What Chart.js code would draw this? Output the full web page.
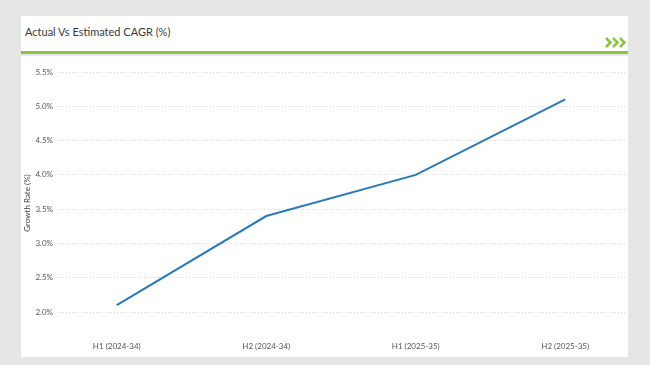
<!DOCTYPE html>
<html>
<head>
<meta charset="utf-8">
<script src="https://cdn.jsdelivr.net/npm/chart.js@4.4.1/dist/chart.umd.min.js"></script>
<style>
  html, body { margin: 0; padding: 0; }
  body { width: 650px; height: 365px; background: #e6e6e6; position: relative; overflow: hidden; font-family: Lato, "Open Sans", sans-serif; }
  #header { position: absolute; left: 21px; top: 16px; width: 607px; height: 35px; background: #fff; }
  #title { position: absolute; left: 4px; top: 9px; font-size: 11px; color: #3a3a3a; }
  #greenline { position: absolute; left: 21px; top: 51px; width: 607px; height: 3px; background: #8cc63f; }
  #chev { position: absolute; left: 605px; top: 37px; }
  #body { position: absolute; left: 21px; top: 56px; width: 607px; height: 301px; background: #fff; }
  #c { position: absolute; left: 0; top: 0; }
</style>
</head>
<body>
<div id="header"><div id="title">Actual Vs Estimated CAGR (%)</div></div>
<svg id="chev" width="22" height="11" viewBox="0 0 22 11">
  <polyline points="1,1 5.5,5.5 1,10" fill="none" stroke="#8cc63f" stroke-width="2.6"/>
  <polyline points="8,1 12.5,5.5 8,10" fill="none" stroke="#8cc63f" stroke-width="2.6"/>
  <polyline points="15,1 19.5,5.5 15,10" fill="none" stroke="#8cc63f" stroke-width="2.6"/>
</svg>
<div id="greenline"></div>
<div id="body"><canvas id="c" width="607" height="301"></canvas></div>
<script>
const categories = ["H1 (2024-34)", "H2 (2024-34)", "H1 (2025-35)", "H2 (2025-35)"];
const growthRate = [2.1, 3.4, 4.0, 5.1];
const yTicks = [2.0, 2.5, 3.0, 3.5, 4.0, 4.5, 5.0, 5.5];

const fontFam = 'Lato, "Open Sans", sans-serif';
new Chart(document.getElementById('c'), {
  type: 'line',
  data: {
    datasets: [{
      data: growthRate.map((v, i) => ({ x: i, y: v })),
      borderColor: '#2a7ab9',
      borderWidth: 2,
      pointRadius: 0,
      tension: 0,
      fill: false
    }]
  },
  options: {
    responsive: false,
    animation: false,
    layout: { padding: { top: 16, right: 3, left: 0, bottom: 0 } },
    plugins: { legend: { display: false }, tooltip: { enabled: false } },
    scales: {
      x: {
        type: 'linear',
        min: -0.4,
        max: categories.length - 0.6,
        afterBuildTicks: s => { s.ticks = categories.map((_, i) => ({ value: i })); },
        afterFit: s => { s.height = 23; },
        grid: { display: false, drawTicks: false },
        border: { display: false },
        ticks: {
          autoSkip: false,
          maxRotation: 0,
          padding: 8,
          color: '#555',
          font: { family: fontFam, size: 8 },
          callback: v => categories[v]
        }
      },
      y: {
        min: 1.68,
        max: 5.5,
        afterBuildTicks: s => { s.ticks = yTicks.map(v => ({ value: v })); },
        afterFit: s => { s.width = 36; },
        grid: { color: '#d6d6d6', drawTicks: false, lineWidth: 1 },
        border: { display: false, dash: [1, 2] },
        ticks: {
          padding: 4,
          color: '#555',
          font: { family: fontFam, size: 8 },
          callback: v => v.toFixed(1) + '%'
        },
        title: {
          display: true,
          text: 'Growth Rate (%)',
          color: '#444',
          font: { family: fontFam, size: 8 },
          padding: { top: 2, bottom: 2 }
        }
      }
    }
  }
});
</script>
</body>
</html>
